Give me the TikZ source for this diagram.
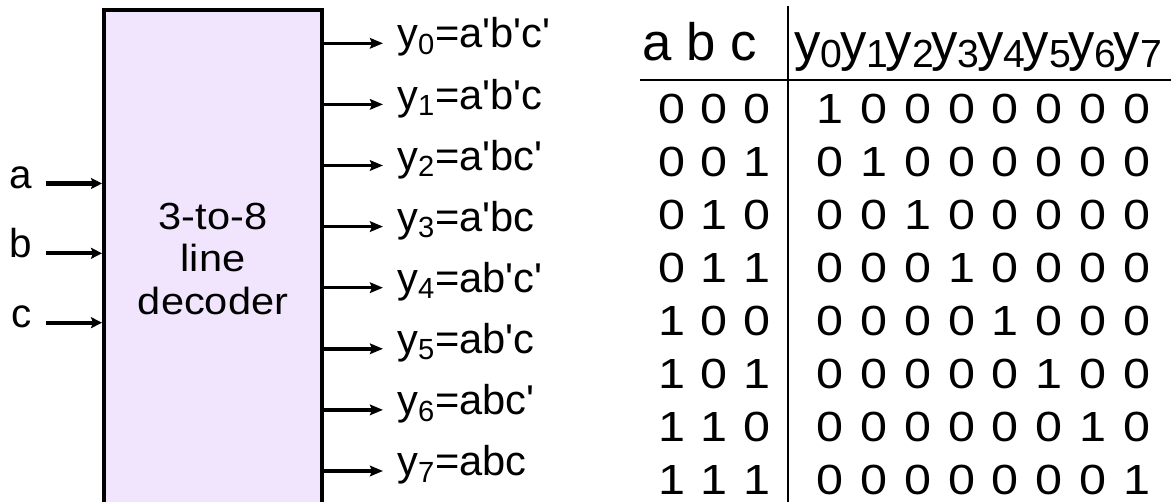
\documentclass[tikz,border=0pt]{standalone}
\usepackage{fontspec}
\setmainfont{Liberation Sans}
\newfontfamily\tabfont[FakeStretch=1.15]{Liberation Sans}
\newfontfamily\decfont[FakeStretch=1.1]{Liberation Sans}
\usetikzlibrary{arrows.meta,positioning}
\definecolor{decfill}{RGB}{240,229,252}
\tikzset{
  decbox/.style={draw, line width=2.3pt, fill=decfill, minimum width=4.36cm, minimum height=9.98cm, inner sep=0pt, align=center, font=\decfont\fontsize{21.5}{24.4}\selectfont},
  inarrow/.style={-{Stealth[length=0.22cm, width=0.22cm, inset=0.04cm]}, line width=2.4pt},
  outarrow/.style={-{Stealth[length=0.26cm, width=0.21cm, inset=0.04cm]}, line width=2pt},
  inlbl/.style={anchor=mid east, inner xsep=0.28cm, inner ysep=0pt, font=\fontsize{23}{27}\selectfont},
  outlbl/.style={anchor=mid west, inner xsep=0.28cm, inner ysep=0pt, font=\fontsize{23.7}{28}\selectfont},
  rule/.style={line width=1.1pt},
  hdr/.style={anchor=base, inner sep=0pt, font=\fontsize{30}{36}\selectfont},
  abcrow/.style={inner sep=0pt, font={\tabfont\fontsize{24}{28}\selectfont\spaceskip=0.31cm\relax}},
  yrow/.style={inner sep=0pt, font={\tabfont\fontsize{24}{28}\selectfont\spaceskip=0.338cm\relax}},
}
\newcommand{\inv}{\textquotesingle}
\newcommand{\ysub}[1]{y\raisebox{-0.14cm}{\fontsize{22.3}{26}\selectfont#1}\kern-0.05cm}

\begin{document}
\begin{tikzpicture}[x=0.02cm, y=-0.02cm]
\useasboundingbox (0,0) rectangle (1171,502);
% --- decoder block (runs off the bottom edge) ---
\node[decbox] (dec) at (213,259) {3-to-8\\line\\decoder};
% --- inputs ---
\node[inlbl] (ina) at (46,183.5) {a};
\draw[inarrow] (ina.mid east) -- (ina.mid east -| dec.west);
\node[inlbl] (inb) at (46,253.3) {b};
\draw[inarrow] (inb.mid east) -- (inb.mid east -| dec.west);
\node[inlbl] (inc) at (46,322.7) {c};
\draw[inarrow] (inc.mid east) -- (inc.mid east -| dec.west);
% --- outputs y0..y7 ---
\foreach \k/\f in {0/a\inv b\inv c\inv, 1/a\inv b\inv c, 2/a\inv bc\inv, 3/a\inv bc,
                   4/ab\inv c\inv, 5/ab\inv c, 6/abc\inv, 7/abc} {
  \node[outlbl] (y\k) at (383,43.3+61.1*\k) {y\textsubscript{\k}=\f};
  \draw[outarrow] (y\k.mid west -| dec.east) -- (y\k.mid west);
}
% --- truth table ---
\draw[rule] (788,6) -- (788,502);
\draw[rule] (640,80) -- (1171,80);
\node[hdr] (hin) at (700,61) {a b c};
\node[hdr] (hout) at (977,61) {\ysub0\ysub1\ysub2\ysub3\ysub4\ysub5\ysub6\ysub7};
\foreach \abc/\ys [count=\i from 0] in {0 0 0/1 0 0 0 0 0 0 0, 0 0 1/0 1 0 0 0 0 0 0,
    0 1 0/0 0 1 0 0 0 0 0, 0 1 1/0 0 0 1 0 0 0 0, 1 0 0/0 0 0 0 1 0 0 0,
    1 0 1/0 0 0 0 0 1 0 0, 1 1 0/0 0 0 0 0 0 1 0, 1 1 1/0 0 0 0 0 0 0 1} {
  \node[abcrow] (r\i) at (714.5,109+53*\i) {\abc};
  \node[yrow] (s\i) at (983.5,109+53*\i) {\ys};
}
\end{tikzpicture}
\end{document}
